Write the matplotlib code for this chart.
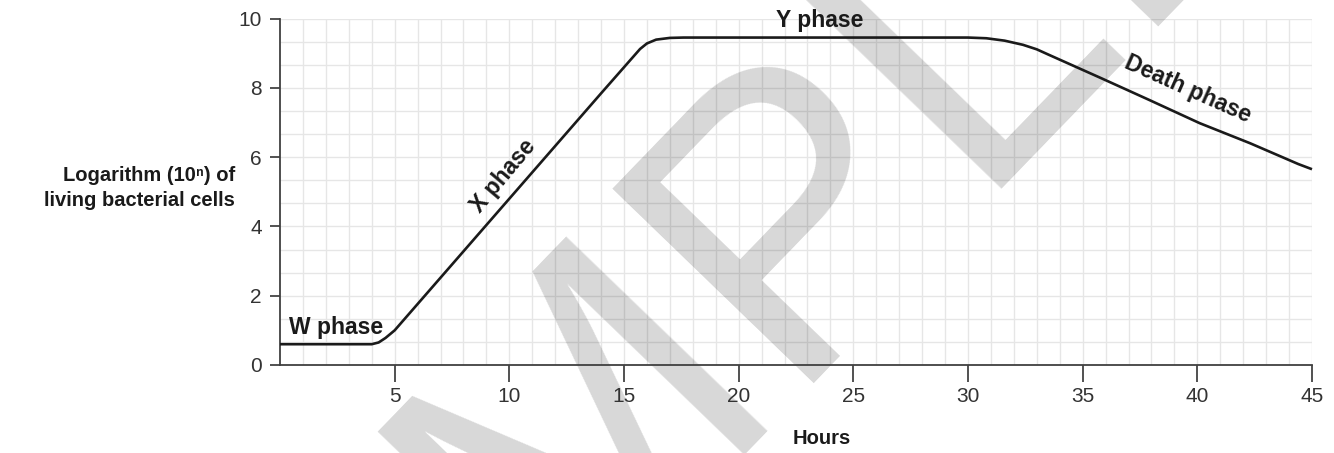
import numpy as np
import matplotlib.pyplot as plt

# growth curve
hours = [0, 4.0, 4.3, 4.6, 5.0, 6, 8, 10, 12, 14, 15.7, 16.0, 16.4, 17.0, 17.6,
         20, 25, 30, 30.8, 31.6, 32.4, 33.0, 33.5, 35.8, 37.9, 40.1, 42.3, 43.7, 44.4, 45]
log_cells = [0.6, 0.6, 0.65, 0.78, 1.0, 1.76, 3.28, 4.8, 6.32, 7.84, 9.12, 9.28, 9.39, 9.44, 9.45,
             9.45, 9.45, 9.45, 9.43, 9.36, 9.24, 9.11, 8.96, 8.28, 7.65, 6.98, 6.4, 6.0, 5.8, 5.65]

x_ticks = [5, 10, 15, 20, 25, 30, 35, 40, 45]
y_ticks = [0, 2, 4, 6, 8, 10]

# phase labels: (text, hour, value, rotation, ha, va)
phase_labels = [('W phase', 0.39, 0.9, 0, 'left', 'baseline'),
                ('X phase', 9.75, 5.45, 50, 'center', 'center'),
                ('Y phase', 23.55, 9.75, 0, 'center', 'baseline'),
                ('Death phase', 39.6, 7.95, -24, 'center', 'center')]

plt.rcParams['font.family'] = ['Liberation Sans', 'DejaVu Sans']
fig = plt.figure(figsize=(13.34, 4.53), dpi=100)
ax = fig.add_axes([280/1334, 1 - 365/453, 1032/1334, 346.5/453])

# grid, square cells
for h in np.arange(1, 46):
    ax.axvline(h, color='#e6e6e6', linewidth=1.0, zorder=0)
for v in np.arange(1, 16) * (2/3):
    ax.axhline(v, color='#e6e6e6', linewidth=1.0, zorder=0)

# watermark
ax.text(747/1334, 1 - 434/453, 'SAMPLE', transform=fig.transFigure, fontsize=292,
        rotation=46, rotation_mode='anchor', ha='center', va='baseline',
        color='black', alpha=0.155, zorder=1, clip_on=False)

ax.plot(hours, log_cells, color='#1a1a1a', linewidth=1.9, zorder=3,
        solid_capstyle='butt', clip_on=False)

for txt, h, v, rot, ha, va in phase_labels:
    ax.text(h, v, txt, fontsize=16.5, fontweight='bold', rotation=rot,
            rotation_mode='anchor', ha=ha, va=va, color='#1a1a1a', zorder=4)

ax.set_xlim(0, 45)
ax.set_ylim(0, 10)
ax.set_xticks(x_ticks)
ax.set_yticks(y_ticks)
ax.tick_params(axis='x', length=12, width=1.2, pad=4, labelsize=15, colors='#333333')
ax.tick_params(axis='y', length=7, width=1.2, pad=6, labelsize=15, colors='#333333')
for side in ['top', 'right']:
    ax.spines[side].set_visible(False)
for side in ['left', 'bottom']:
    ax.spines[side].set_color('#404040')
    ax.spines[side].set_linewidth(1.3)

fig.text(235/1334, 1 - 188/453, 'Logarithm (10ⁿ) of\nliving bacterial cells',
         fontsize=14.5, fontweight='bold', ha='right', va='center',
         multialignment='right', linespacing=1.45, color='#1a1a1a')
fig.text(822/1334, 1 - 438/453, 'Hours', fontsize=14.5, fontweight='bold',
         ha='center', va='center', color='#1a1a1a')

plt.savefig('out.png', dpi=100)
